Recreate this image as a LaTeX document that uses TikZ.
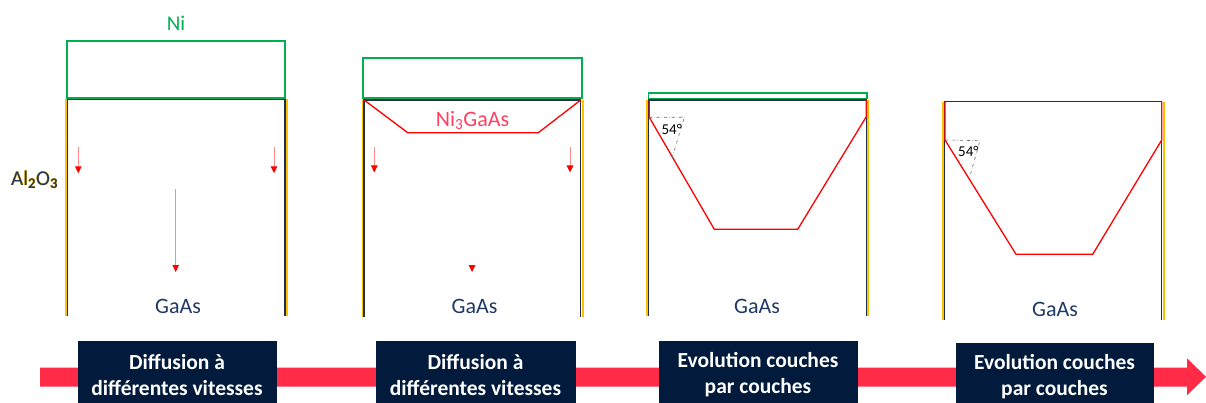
\documentclass[tikz,border=0pt]{standalone}
\usepackage{fontspec}
\setmainfont{Carlito}
\usetikzlibrary{arrows.meta}
\definecolor{navytext}{HTML}{1F3864}
\definecolor{lineblue}{HTML}{1F2D50}
\definecolor{gold}{HTML}{FFC000}
\definecolor{nigreen}{HTML}{00B050}
\definecolor{bandred}{HTML}{FF2B47}
\definecolor{boxfill}{HTML}{021B3D}
\definecolor{pinkred}{HTML}{FF4060}
\definecolor{lightred}{HTML}{FF8C8C}
\tikzset{
  sidegold/.style={draw=gold,line width=1.8pt},
  sideblue/.style={draw=lineblue,line width=1.4pt},
  niframe/.style={draw=nigreen,line width=1.8pt},
  profile/.style={draw=red,line width=1.3pt,line join=miter},
  angleguide/.style={draw=black!60,dash dot,line width=0.6pt},
  diffarrow/.style={draw=lightred,line width=1pt,-{Triangle[width=6.5pt,length=7pt,color=red,fill=red]}},
  procbox/.style={fill=boxfill,draw=boxfill,minimum width=#1,minimum height=68pt,inner sep=0pt,
    text=white,align=center,font=\fontsize{21.5}{26}\selectfont\bfseries},
  layerlabel/.style={text=navytext,font=\fontsize{22}{24}\selectfont,inner sep=0pt,anchor=base},
  anglelabel/.style={text=black,font=\fontsize{15}{17}\selectfont,inner sep=0pt},
}
\begin{document}
\begin{tikzpicture}[x=1pt,y=-1pt]
\useasboundingbox (0,0) rectangle (1206,403);
\clip (0,0) rectangle (1206,403);

% ---------- Panel 1 ----------
\draw[sidegold] (66,99) -- (66,316);
\draw[sidegold] (287,99) -- (287,316);
\draw[sideblue] (67.4,99) -- (67.4,316);
\draw[sideblue] (285,99) -- (285,316);
\draw[sideblue] (67,99) -- (286,99);
\draw[niframe] (67,41) rectangle (285.3,98.3);
\node[text=nigreen,font=\fontsize{21}{23}\selectfont,inner sep=0pt,anchor=base] (nilab) at (176,30.5) {Ni};
\coordinate (a1s) at (78.3,146.7);  \coordinate (a1e) at (78.3,173.3);
\coordinate (a2s) at (274,146.7);   \coordinate (a2e) at (274,173.3);
\coordinate (a3s) at (175.7,189.3); \coordinate (a3e) at (175.7,272);
\draw[diffarrow] (a1s) -- (a1e);
\draw[diffarrow] (a2s) -- (a2e);
\draw[diffarrow] (a3s) -- (a3e);
\node[layerlabel] (g1) at (178,313.5) {GaAs};

% Al2O3 label (navy with gold outline)
\foreach \dx/\dy in {-0.3/0,0.3/0,0/-0.3,0/0.3}{
  \node[text=gold,font=\fontsize{21}{23}\selectfont,inner sep=0pt,anchor=base west] at (11+\dx,185.5+\dy) {Al\textsubscript{\bfseries 2}O\textsubscript{\bfseries 3}};
}
\node[text=navytext,font=\fontsize{21}{23}\selectfont,inner sep=0pt,anchor=base west] (alo) at (11,185.5) {Al\textsubscript{\bfseries 2}O\textsubscript{\bfseries 3}};

% ---------- Panel 2 ----------
\draw[sidegold] (362.8,100) -- (362.8,317);
\draw[sidegold] (583,100) -- (583,317);
\draw[sideblue] (363.9,100) -- (363.9,317);
\draw[sideblue] (580.7,100) -- (580.7,317);
\draw[sideblue] (363.3,100) -- (581.3,100);
\draw[niframe] (363.3,57.7) rectangle (582.3,98.3);
\draw[profile] (363.6,99.6) -- (407.7,132.7) -- (538.3,132.7) -- (581,99.8);
\node[text=pinkred,font=\fontsize{22}{24}\selectfont,inner sep=0pt,anchor=base] (ngalab) at (472.5,126.5) {Ni\textsubscript{3}GaAs};
\coordinate (b1s) at (374.3,146.7); \coordinate (b1e) at (374.3,172.5);
\coordinate (b2s) at (570,146.7);   \coordinate (b2e) at (570,172.5);
\draw[diffarrow] (b1s) -- (b1e);
\draw[diffarrow] (b2s) -- (b2e);
\fill[red] (468.6,265.2) -- (475.4,265.2) -- (472,272) -- cycle;
\node[layerlabel] (g2) at (474.5,313.5) {GaAs};

% ---------- Panel 3 ----------
\draw[sidegold] (647.3,100) -- (647.3,316);
\draw[sidegold] (868,100) -- (868,316);
\draw[sideblue] (648.6,100) -- (648.6,316);
\draw[sideblue] (866.2,100) -- (866.2,316);
\draw[sideblue] (648.3,100) -- (866.7,100);
\draw[niframe,line width=1.6pt] (648.3,93) rectangle (866.7,98.5);
\draw[profile] (649.3,100) -- (649.3,117.3) -- (714.3,229.3) -- (797.7,229.3) -- (866.3,116.7) -- (866.3,100);
\draw[angleguide] (649.3,117.3) -- (684.3,117.3) -- (672.3,157.3);
\node[anglelabel] (ang3) at (671.7,129.3) {54°};
\node[layerlabel] (g3) at (757,313.5) {GaAs};

% ---------- Panel 4 ----------
\draw[sidegold] (943.2,101.7) -- (943.2,320);
\draw[sidegold] (1163.7,101.7) -- (1163.7,320);
\draw[sideblue] (944.5,101.7) -- (944.5,320);
\draw[sideblue] (1161.5,101.7) -- (1161.5,320);
\draw[sideblue] (944.3,101.7) -- (1162.3,101.7);
\draw[profile] (945,101.7) -- (945,140) -- (1016,254.3) -- (1092.7,254.3) -- (1161.7,140) -- (1161.7,101.7);
\draw[angleguide] (945,140) -- (980,140.7) -- (969.3,178.3);
\node[anglelabel] (ang4) at (968.3,151.7) {54°};
\node[layerlabel] (g4) at (1055,316.5) {GaAs};

% ---------- Timeline arrow ----------
\fill[bandred] (40,367.5) -- (1187,367.5) -- (1187,358.3) -- (1206,376.8) -- (1187,395.3) -- (1187,386.7) -- (40,386.7) -- cycle;

\node[procbox=198pt] (s1) at (177,375) {Diffusion à\\différentes vitesses};
\node[procbox=199pt] (s2) at (475.5,375) {Diffusion à\\différentes vitesses};
\node[procbox=198pt] (s3) at (758,375) {Evolution couches\\par couches};
\node[procbox=197pt] (s4) at (1054.5,377) {Evolution couches\\par couches};
\end{tikzpicture}
\end{document}
